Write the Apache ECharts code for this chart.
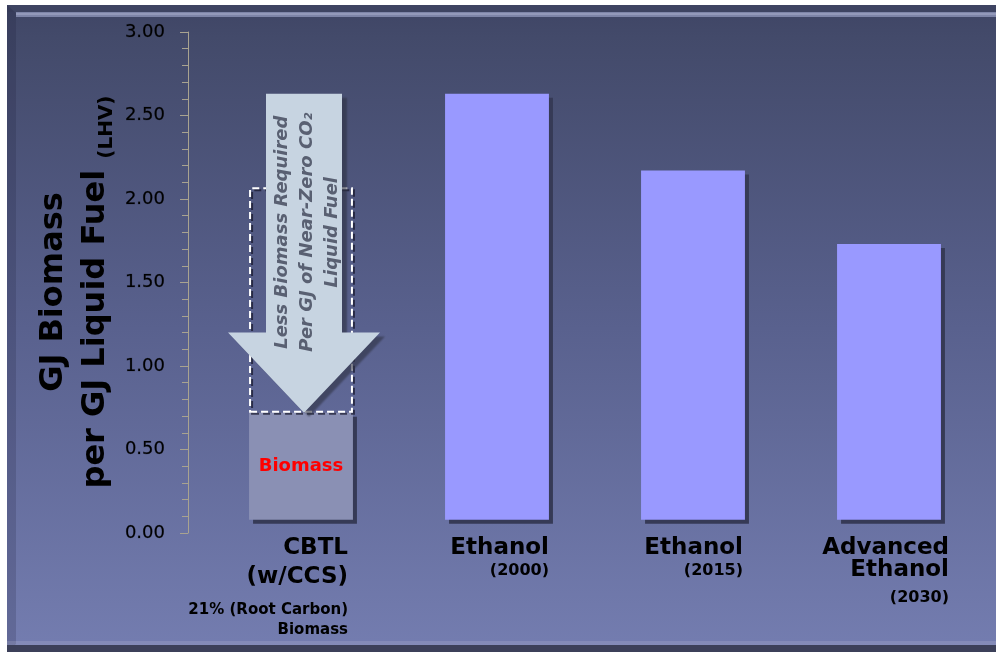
<!DOCTYPE html>
<html>
<head>
<meta charset="utf-8">
<script src="https://cdn.jsdelivr.net/npm/echarts@6/dist/echarts.min.js"></script>
<style>
  html, body { margin: 0; padding: 0; background: #fff; }
  #chart { width: 996px; height: 652px; }
</style>
</head>
<body>
<div id="chart"></div>
<script>
// values (GJ biomass per GJ liquid fuel, LHV)
const categories = ['CBTL', 'Ethanol (2000)', 'Ethanol (2015)', 'Advanced Ethanol (2030)'];
const barFloor = [0.08, 0.08, 0.08, 0.08];      // bars sit a little above 0 in the original
const barTops = [0.72, 2.63, 2.17, 1.73];
const dashedTop = [2.07, null, null, null];     // dashed outline above the CBTL bar
const yTicks = [0, 0.5, 1, 1.5, 2, 2.5, 3];
const arrowLevels = [2.63, 1.20, 0.72];         // arrow top, start of head, tip

const labelLines = [
    '{a|CBTL}\n{a|(w/CCS)}\n{s| }\n{c|21% (Root Carbon)}\n{c|Biomass}',
    '{a|Ethanol}\n{y|(2000)}',
    '{a|Ethanol}\n{y|(2015)}',
    '{a|Advanced}\n{t|Ethanol}\n{y2|(2030)}'
];
const labelWidths = [94, 104, 100, 120];

const FONT = 'DejaVu Sans';
const barColor = '#9999ff';
const cbtlColor = '#8a90b4';
const axisColor = '#a8a390';

const chart = echarts.init(document.getElementById('chart'));

const panel = [
    {
        type: 'rect', z: -10, silent: true,
        shape: { x: 7, y: 5, width: 989, height: 647 },
        style: {
            fill: new echarts.graphic.LinearGradient(0, 0, 0, 1, [
                { offset: 0, color: '#3f4565' },
                { offset: 0.05, color: '#434a6a' },
                { offset: 0.5, color: '#59618e' },
                { offset: 1, color: '#747db0' }
            ])
        }
    },
    { type: 'rect', z: -9, silent: true, shape: { x: 7, y: 5, width: 989, height: 7 }, style: { fill: '#3e4462' } },
    { type: 'rect', z: -9, silent: true, shape: { x: 16, y: 12, width: 980, height: 5 }, style: { fill: '#7e85a8' } },
    { type: 'rect', z: -9, silent: true, shape: { x: 16, y: 13, width: 980, height: 2 }, style: { fill: '#9399ba' } },
    { type: 'polygon', z: -9, silent: true, shape: { points: [[7, 5], [16, 13], [16, 644], [7, 652]] }, style: { fill: 'rgba(20,24,50,0.18)' } },
    { type: 'rect', z: -9, silent: true, shape: { x: 7, y: 641, width: 989, height: 4 }, style: { fill: 'rgba(255,255,255,0.12)' } },
    { type: 'rect', z: -9, silent: true, shape: { x: 7, y: 645, width: 989, height: 7 }, style: { fill: '#3c4059' } },
    {
        type: 'text', z: 5, silent: true,
        x: 75, y: 292, rotation: Math.PI / 2,
        style: {
            text: '{a|GJ Biomass}\n{a|per GJ Liquid Fuel }{b|(LHV)}',
            align: 'center', verticalAlign: 'middle',
            rich: {
                a: { fontFamily: FONT, fontWeight: 'bold', fontSize: 32, lineHeight: 42, fill: '#000' },
                b: { fontFamily: FONT, fontWeight: 'bold', fontSize: 20, lineHeight: 34, verticalAlign: 'bottom', fill: '#000' }
            }
        }
    }
];

const shadow = { shadowColor: '#363a56', shadowOffsetX: 4, shadowOffsetY: 4, shadowBlur: 0 };

chart.setOption({
    animation: false,
    grid: { left: 203, right: 9, top: 32, bottom: 119 },
    xAxis: {
        type: 'category',
        data: categories.map((c, i) => ({ value: c, textStyle: { width: labelWidths[i] } })),
        axisLine: { show: false },
        axisTick: { show: false },
        axisLabel: {
            interval: 0,
            margin: 1,
            align: 'center',
            formatter: (v, i) => labelLines[i],
            rich: {
                a: { fontFamily: FONT, fontWeight: 'bold', fontSize: 23, lineHeight: 29, color: '#000', align: 'right' },
                t: { fontFamily: FONT, fontWeight: 'bold', fontSize: 23, lineHeight: 15, color: '#000', align: 'right' },
                s: { fontSize: 2, lineHeight: 8, align: 'right' },
                c: { fontFamily: FONT, fontWeight: 'bold', fontSize: 15, lineHeight: 20, color: '#000', align: 'right' },
                y: { fontFamily: FONT, fontWeight: 'bold', fontSize: 16, lineHeight: 15, color: '#000', align: 'right' },
                y2: { fontFamily: FONT, fontWeight: 'bold', fontSize: 16, lineHeight: 39, color: '#000', align: 'right' }
            }
        }
    },
    yAxis: {
        type: 'value',
        min: yTicks[0],
        max: yTicks[yTicks.length - 1],
        interval: yTicks[1] - yTicks[0],
        offset: 15,
        axisLine: { show: true, lineStyle: { color: axisColor, width: 1 } },
        axisTick: { show: true, length: 8, lineStyle: { color: axisColor } },
        minorTick: { show: true, splitNumber: 5, length: 6, lineStyle: { color: axisColor } },
        splitLine: { show: false },
        axisLabel: {
            margin: 23,
            fontFamily: FONT,
            fontSize: 18,
            color: '#000',
            textBorderColor: 'rgba(0,0,0,0.35)',
            textBorderWidth: 0.6,
            formatter: v => v.toFixed(2)
        }
    },
    series: [
        {
            name: 'floor', type: 'bar', stack: 'b', barWidth: '53%', silent: true,
            itemStyle: { color: 'rgba(0,0,0,0)' },
            data: barFloor
        },
        {
            name: 'biomass', type: 'bar', stack: 'b', barWidth: '53%',
            data: barTops.map((t, i) => ({
                value: +(t - barFloor[i]).toFixed(3),
                itemStyle: Object.assign({ color: i === 0 ? cbtlColor : barColor }, shadow),
                label: i === 0 ? {
                    show: true, position: 'inside', formatter: 'Biomass',
                    fontFamily: FONT, fontWeight: 'bold', fontSize: 18, color: '#ff0000',
                    textShadowColor: 'rgba(40,40,60,0.6)', textShadowOffsetX: 2, textShadowOffsetY: 2, textShadowBlur: 0
                } : { show: false }
            }))
        },
        {
            name: 'previous', type: 'bar', stack: 'b', barWidth: '53%', silent: true,
            itemStyle: {
                color: 'rgba(0,0,0,0)', borderColor: '#ffffff', borderWidth: 2, borderType: [7, 4],
                shadowColor: 'rgba(20,20,40,0.7)', shadowOffsetX: 2, shadowOffsetY: 2, shadowBlur: 0
            },
            data: dashedTop.map((d, i) => d == null ? '-' : +(d - barTops[i]).toFixed(3))
        }
    ],
    graphic: panel
});

// arrow annotation over the CBTL bar
const cx = chart.convertToPixel({ xAxisIndex: 0 }, 0) + 3;
const yTop = chart.convertToPixel({ yAxisIndex: 0 }, arrowLevels[0]);
const yHead = chart.convertToPixel({ yAxisIndex: 0 }, arrowLevels[1]);
const yTip = chart.convertToPixel({ yAxisIndex: 0 }, arrowLevels[2]);

chart.setOption({
    graphic: panel.concat([
        {
            type: 'polygon', z: 10, silent: true,
            shape: {
                points: [
                    [cx - 38, yTop], [cx + 38, yTop], [cx + 38, yHead], [cx + 76, yHead],
                    [cx, yTip], [cx - 76, yHead], [cx - 38, yHead]
                ]
            },
            style: { fill: '#c7d4e1', shadowColor: 'rgba(45,48,65,0.6)', shadowOffsetX: 5, shadowOffsetY: 4, shadowBlur: 2 }
        },
        {
            type: 'text', z: 11, silent: true,
            x: cx + 3, y: (yTop + yHead) / 2 + 19, rotation: Math.PI / 2,
            style: {
                text: 'Less Biomass Required\nPer GJ of Near-Zero CO\u2082\nLiquid Fuel',
                align: 'center', verticalAlign: 'middle',
                fontFamily: FONT, fontWeight: 'bold', fontStyle: 'italic', fontSize: 18,
                lineHeight: 25, fill: '#596072'
            }
        }
    ])
});
</script>
</body>
</html>
